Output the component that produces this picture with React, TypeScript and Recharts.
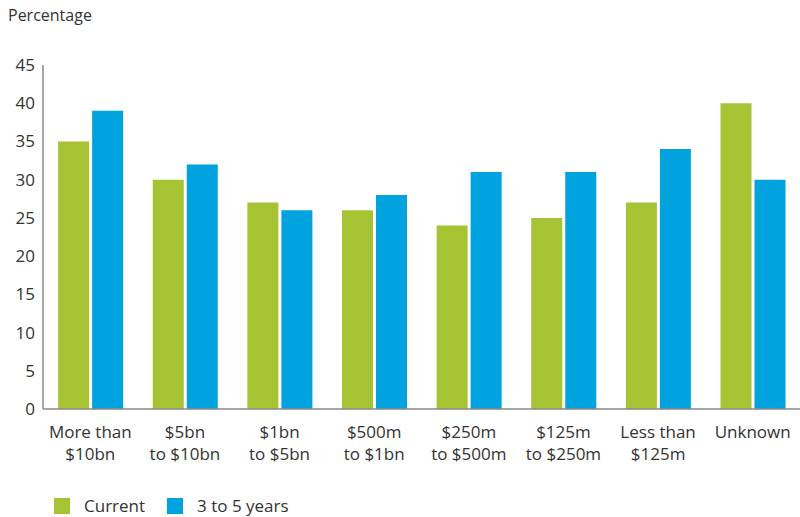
import React from 'react';
import { BarChart, Bar, XAxis, YAxis } from 'recharts';

const categories = [
  ['More than', '$10bn'],
  ['$5bn', 'to $10bn'],
  ['$1bn', 'to $5bn'],
  ['$500m', 'to $1bn'],
  ['$250m', 'to $500m'],
  ['$125m', 'to $250m'],
  ['Less than', '$125m'],
  ['Unknown'],
];
const current = [35, 30, 27, 26, 24, 25, 27, 40];
const future = [39, 32, 26, 28, 31, 31, 34, 30];
const yTicks = [0, 5, 10, 15, 20, 25, 30, 35, 40, 45];

const GREEN = '#a5c332';
const BLUE = '#00a3dd';
const FONT = '"Open Sans", "Noto Sans", sans-serif';

const data = categories.map((c, i) => ({
  name: c.join(' '),
  lines: c,
  current: current[i],
  future: future[i],
}));

const CatTick = (props: any) => {
  const { x, y, payload } = props;
  const lines = data[payload.index]?.lines ?? [payload.value];
  return (
    <text x={x} y={y + 21} textAnchor="middle" fill="#333" fontSize={17} fontFamily={FONT}>
      {lines.map((l: string, i: number) => (
        <tspan key={i} x={x} dy={i === 0 ? 0 : 22}>{l}</tspan>
      ))}
    </text>
  );
};

export default function App() {
  return (
    <div style={{ position: 'fixed', left: 0, top: 0, width: 800, height: 517, background: '#fff', overflow: 'hidden' }}>
      <div style={{ position: 'absolute', left: 8, top: 4, fontFamily: FONT, fontSize: 16, color: '#333' }}>
        Percentage
      </div>
      <BarChart
        width={800}
        height={517}
        data={data}
        margin={{ top: 65, right: 0, bottom: 48, left: 0 }}
        barCategoryGap="16%"
        barGap={3}
      >
        <YAxis
          domain={[0, 45]}
          ticks={yTicks}
          width={43}
          tickLine={false}
          axisLine={{ stroke: '#888', strokeWidth: 1.5 }}
          tick={{ fill: '#333', fontSize: 17, fontFamily: FONT }}
          tickMargin={2}
          interval={0}
        />
        <XAxis
          dataKey="name"
          height={60}
          tickLine={false}
          axisLine={{ stroke: '#888', strokeWidth: 1.5 }}
          tick={<CatTick />}
          interval={0}
        />
        <Bar dataKey="current" name="Current" fill={GREEN} isAnimationActive={false} />
        <Bar dataKey="future" name="3 to 5 years" fill={BLUE} isAnimationActive={false} />
      </BarChart>
      <div style={{ position: 'absolute', left: 54, top: 494, display: 'flex', alignItems: 'center', fontFamily: FONT, fontSize: 17, color: '#333' }}>
        <span style={{ width: 16, height: 16, background: GREEN, display: 'inline-block', marginRight: 14 }} />
        <span style={{ marginRight: 22 }}>Current</span>
        <span style={{ width: 16, height: 16, background: BLUE, display: 'inline-block', marginRight: 14 }} />
        <span>3 to 5 years</span>
      </div>
    </div>
  );
}
